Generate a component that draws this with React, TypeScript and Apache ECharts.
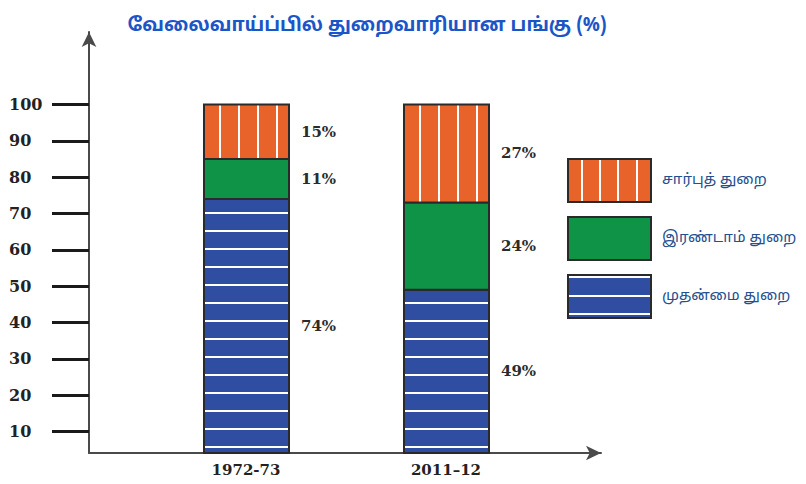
import React, { useEffect, useRef } from 'react';
import * as echarts from 'echarts';

const chartTitle = 'வேலைவாய்ப்பில் துறைவாரியான பங்கு (%)';
const categories = ['1972-73', '2011–12'];
const sectorNames = ['முதன்மை துறை', 'இரண்டாம் துறை', 'சார்புத் துறை'];
const primaryShare = [74, 49];
const secondaryShare = [11, 24];
const tertiaryShare = [15, 27];
const yTickValues = [10, 20, 30, 40, 50, 60, 70, 80, 90, 100];

const Y_MIN = 4.15;
const Y_MAX = 119.9;

const COLORS = {
  primary: '#2f4ea1',
  secondary: '#0f9347',
  tertiary: '#e8632a',
};
const BORDER = '#2a2a2a';
const SERIF = "'DejaVu Serif', 'Liberation Serif', serif";
const TAMIL = "'Noto Sans Tamil', 'Lohit Tamil', 'Noto Sans', sans-serif";

type Kind = 'primary' | 'secondary' | 'tertiary';

function buildSegments(idx: number) {
  const out: number[][] = [];
  categories.forEach((_, ci) => {
    const vals = [primaryShare[ci], secondaryShare[ci], tertiaryShare[ci]];
    let lo = 0;
    for (let k = 0; k < idx; k++) lo += vals[k];
    out.push([ci, lo, lo + vals[idx], vals[idx]]);
  });
  return out;
}

function makeRender(kind: Kind) {
  return (params: any, api: any) => {
    const ci = api.value(0);
    const lo = api.value(1);
    const hi = api.value(2);
    const pct = api.value(3);
    const cs = params.coordSys;
    const bottomLimit = cs.y + cs.height;
    const pLo = api.coord([ci, lo]);
    const pHi = api.coord([ci, hi]);
    const barW = 85;
    const x = Math.round(pLo[0] - barW / 2);
    const yTop = pHi[1];
    const yBot = Math.min(pLo[1], bottomLimit);
    const h = yBot - yTop;
    const children: any[] = [
      { type: 'rect', shape: { x, y: yTop, width: barW, height: h }, style: { fill: COLORS[kind] } },
    ];
    if (kind === 'tertiary') {
      for (let k = 1; k <= 4; k++) {
        const sx = x + k * 19 - 3;
        children.push({
          type: 'line',
          shape: { x1: sx, y1: yTop, x2: sx, y2: yBot },
          style: { stroke: '#ffffff', lineWidth: 2 },
        });
      }
    }
    if (kind === 'primary') {
      for (let sy = yBot - 6; sy > yTop + 12; sy -= 18) {
        children.push({
          type: 'line',
          shape: { x1: x, y1: sy, x2: x + barW, y2: sy },
          style: { stroke: '#ffffff', lineWidth: 2 },
        });
      }
    }
    children.push({
      type: 'rect',
      shape: { x, y: yTop, width: barW, height: h },
      style: { fill: 'none', stroke: BORDER, lineWidth: 2 },
    });
    children.push({
      type: 'text',
      style: {
        text: pct + '%',
        x: x + barW + 12,
        y: (yTop + yBot) / 2,
        verticalAlign: 'middle',
        align: 'left',
        fill: '#2b2b2b',
        fontFamily: SERIF,
        fontWeight: 'bold',
        fontSize: 15,
      },
    });
    return { type: 'group', children };
  };
}

function legendGraphic() {
  const sx = 568;
  const sw = 83;
  const sh = 43;
  const rows = [
    { kind: 'tertiary' as Kind, y: 159, name: sectorNames[2] },
    { kind: 'secondary' as Kind, y: 217, name: sectorNames[1] },
    { kind: 'primary' as Kind, y: 275, name: sectorNames[0] },
  ];
  const els: any[] = [];
  rows.forEach((r) => {
    els.push({ type: 'rect', shape: { x: sx, y: r.y, width: sw, height: sh }, style: { fill: COLORS[r.kind] } });
    if (r.kind === 'tertiary') {
      [14, 32, 50, 69].forEach((o) => {
        els.push({ type: 'line', shape: { x1: sx + o, y1: r.y, x2: sx + o, y2: r.y + sh }, style: { stroke: '#fff', lineWidth: 2 } });
      });
    }
    if (r.kind === 'primary') {
      [2, 21, 39].forEach((o) => {
        els.push({ type: 'line', shape: { x1: sx, y1: r.y + o, x2: sx + sw, y2: r.y + o }, style: { stroke: '#fff', lineWidth: 2 } });
      });
    }
    els.push({ type: 'rect', shape: { x: sx, y: r.y, width: sw, height: sh }, style: { fill: 'none', stroke: BORDER, lineWidth: 2 } });
    els.push({
      type: 'text',
      style: {
        text: r.name,
        x: 662,
        y: r.y + sh / 2,
        verticalAlign: 'middle',
        fill: '#24508f',
        fontFamily: TAMIL,
        fontSize: 15,
      },
    });
  });
  return els;
}

export default function App() {
  const ref = useRef<HTMLDivElement>(null);
  useEffect(() => {
    if (!ref.current) return;
    const chart = echarts.init(ref.current, undefined, { renderer: 'svg' });
    const axisLineStyle = { color: '#4a4a4a', width: 2 };
    chart.setOption({
      animation: false,
      backgroundColor: '#ffffff',
      grid: [
        { left: 89, right: 205, top: 32, bottom: 31 },
        { left: 146, width: 400, top: 32, bottom: 31 },
      ],
      xAxis: [
        {
          gridIndex: 0,
          type: 'value',
          min: 0,
          max: 1,
          axisLine: { show: true, onZero: false, symbol: ['none', 'arrow'], symbolSize: [11, 15], lineStyle: axisLineStyle },
          axisTick: { show: false },
          axisLabel: { show: false },
          splitLine: { show: false },
        },
        {
          gridIndex: 1,
          type: 'category',
          data: categories,
          axisLine: { show: false },
          axisTick: { show: false },
          axisLabel: { margin: 9, color: '#222', fontFamily: SERIF, fontWeight: 'bold', fontSize: 15 },
        },
      ],
      yAxis: [
        {
          gridIndex: 0,
          type: 'value',
          min: Y_MIN,
          max: Y_MAX,
          axisLine: { show: true, onZero: false, symbol: ['none', 'arrow'], symbolSize: [11, 15], lineStyle: axisLineStyle },
          axisTick: { show: true, customValues: yTickValues, length: 37, lineStyle: { color: '#1a1a1a', width: 3 } },
          axisLabel: {
            show: true,
            customValues: yTickValues,
            margin: 80,
            align: 'left',
            color: '#222',
            fontFamily: SERIF,
            fontWeight: 'bold',
            fontSize: 16,
          },
          splitLine: { show: false },
        },
        { gridIndex: 1, type: 'value', min: Y_MIN, max: Y_MAX, show: false },
      ],
      series: (['primary', 'secondary', 'tertiary'] as Kind[]).map((kind, i) => ({
        type: 'custom',
        name: sectorNames[i],
        xAxisIndex: 1,
        yAxisIndex: 1,
        renderItem: makeRender(kind),
        encode: { x: 0, y: [1, 2] },
        data: buildSegments(i),
      })),
      graphic: [
        {
          type: 'text',
          style: {
            text: chartTitle,
            x: 367,
            y: 26,
            align: 'center',
            verticalAlign: 'middle',
            fill: '#1a56c8',
            fontFamily: TAMIL,
            fontWeight: 'bold',
            fontSize: 19,
          },
        },
        ...legendGraphic(),
      ],
    });
    return () => chart.dispose();
  }, []);
  return <div ref={ref} style={{ position: 'fixed', left: 0, top: 0, width: 806, height: 484 }} />;
}
